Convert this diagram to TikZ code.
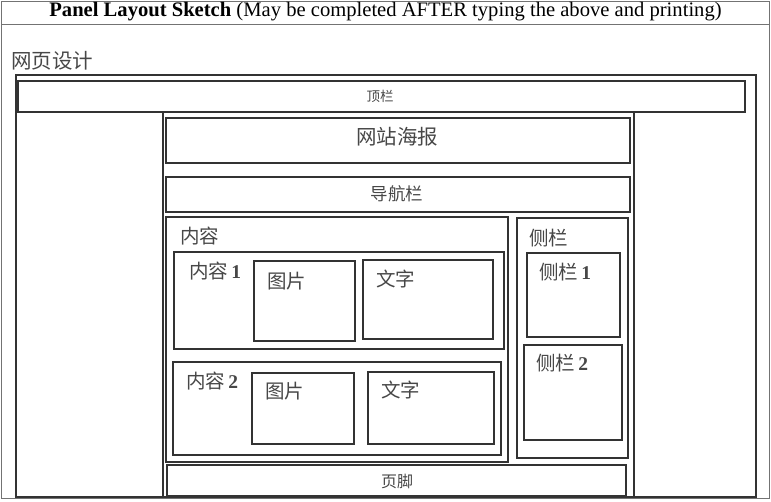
\documentclass[tikz,border=0pt]{standalone}
\usepackage{fontspec}
\setmainfont{Liberation Serif}
\newfontfamily\cjk{Noto Sans CJK SC}
\tikzset{
  box/.style={draw=black!80, line width=1.9pt, inner sep=0pt, anchor=north west},
  tbl/.style={draw=black!55, line width=1pt},
  lbl/.style={inner sep=0pt, text=black!72, font=\cjk},
}
\newcommand\bx[5]{\node[box, minimum width={(#4-#2)*1pt}, minimum height={(#5-#3)*1pt}] (#1) at (#2,#3) {};}
\newcommand\fs[1]{\fontsize{#1}{#1}\selectfont}
\begin{document}
\begin{tikzpicture}[x=1pt,y=-1pt]
\useasboundingbox (0,0) rectangle (771,501);
% outer table
\draw[tbl] (1,1) rectangle (769,498);
\draw[tbl] (1,24) -- (769,24);
\node[inner sep=0pt, font=\fs{20.6}] (hdr) at (385.5,12) {\textbf{Panel Layout Sketch} (May be completed AFTER typing the above and printing)};
\node[lbl, anchor=west, font=\cjk\fs{20.5}] (title) at (11,61) {网页设计};
% frames
\bx{outer}{15}{74}{755}{496}
\bx{top}{17}{80}{744}{111}
\node[lbl, font=\cjk\fs{13.5}] (topl) at (380,96) {顶栏};
\bx{mid}{162}{111}{633}{496}
\bx{poster}{165}{117}{629}{162}
\node[lbl, font=\cjk\fs{20.5}] (posterl) at (397,137) {网站海报};
\bx{nav}{165}{176}{629}{211}
\node[lbl, font=\cjk\fs{17.5}] (navl) at (397,194) {导航栏};
% content
\bx{content}{165}{216}{507}{461}
\node[lbl, anchor=west, font=\cjk\fs{19.5}] (contentl) at (180,236) {内容};
\bx{c1}{173}{251}{503}{348}
\node[lbl, anchor=west, font=\cjk\fs{19.5}] (c1l) at (189,271) {内容\,{\rmfamily\bfseries 1}};
\bx{img1}{253}{260}{354}{340}
\node[lbl, anchor=west, font=\cjk\fs{19.5}] (img1l) at (267,281) {图片};
\bx{txt1}{362}{259}{492}{338}
\node[lbl, anchor=west, font=\cjk\fs{19.5}] (txt1l) at (376,279) {文字};
\bx{c2}{172}{361}{500}{454}
\node[lbl, anchor=west, font=\cjk\fs{19.5}] (c2l) at (186,381) {内容\,{\rmfamily\bfseries 2}};
\bx{img2}{251}{372}{353}{443}
\node[lbl, anchor=west, font=\cjk\fs{19.5}] (img2l) at (265,391) {图片};
\bx{txt2}{367}{371}{493}{443}
\node[lbl, anchor=west, font=\cjk\fs{19.5}] (txt2l) at (381,390) {文字};
% sidebar
\bx{side}{516}{217}{627}{457}
\node[lbl, anchor=west, font=\cjk\fs{19.5}] (sidel) at (529,238) {侧栏};
\bx{s1}{526}{252}{619}{336}
\node[lbl, anchor=west, font=\cjk\fs{19.5}] (s1l) at (539,272) {侧栏\,{\rmfamily\bfseries 1}};
\bx{s2}{523}{344}{621}{439}
\node[lbl, anchor=west, font=\cjk\fs{19.5}] (s2l) at (536,363) {侧栏\,{\rmfamily\bfseries 2}};
% footer
\bx{foot}{166}{464}{625}{495}
\node[lbl, font=\cjk\fs{16}] (footl) at (397,481) {页脚};
\end{tikzpicture}
\end{document}
